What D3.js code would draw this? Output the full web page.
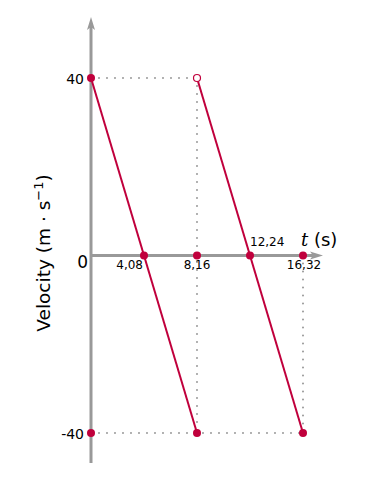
<!DOCTYPE html>
<meta charset="utf-8">
<style>
body { margin: 0; background: #fff; }
#grafico text { font-family: "DejaVu Sans", sans-serif; fill: #000; }
</style>
<svg id="grafico"></svg>
<script src="https://d3js.org/d3.v7.min.js"></script>
<script>

// tramos de la velocidad (t, v)
var tramo1 = [[0, 40], [8.16, -40]];
var tramo2 = [[8.16, 40], [16.32, -40]];
var puntosLlenos = [[0, 40], [4.08, 0], [8.16, 0], [12.24, 0], [16.32, 0], [0, -40], [8.16, -40], [16.32, -40]];
var puntosVacios = [[8.16, 40]];
var ticksY = [40, 0, -40];
var ticksX = ["4,08", "8,16", "12,24", "16,32"];
var valoresX = [4.08, 8.16, 12.24, 16.32];

var width = 388, height = 494;
var rojo = "#c0003c", gris = "#999";

var x = d3.scaleLinear().domain([0, 16.32]).range([91, 303]);
var y = d3.scaleLinear().domain([-40, 40]).range([433, 78]);

var svg = d3.select("#grafico").attr("width", width).attr("height", height);

// guias punteadas
var guias = [
  [[0, 40], [8.16, 40]],
  [[8.16, 40], [8.16, -40]],
  [[0, -40], [16.32, -40]],
  [[16.32, 0], [16.32, -40]]
];
svg.selectAll("line.guia")
    .data(guias)
  .enter().append("line")
    .attr("class", "guia")
    .attr("x1", function(d) { return x(d[0][0]); })
    .attr("y1", function(d) { return y(d[0][1]); })
    .attr("x2", function(d) { return x(d[1][0]); })
    .attr("y2", function(d) { return y(d[1][1]); })
    .attr("stroke", gris)
    .attr("stroke-width", 2)
    .attr("stroke-linecap", "round")
    .attr("stroke-dasharray", "0,8");

// ejes
svg.append("line")
    .attr("x1", x(0)).attr("x2", x(0))
    .attr("y1", 463).attr("y2", 24)
    .attr("stroke", gris).attr("stroke-width", 3);
svg.append("path")
    .attr("d", "M" + x(0) + ",17 L" + (x(0) - 4) + ",30 L" + x(0) + ",27 L" + (x(0) + 4) + ",30 Z")
    .attr("fill", gris);
svg.append("line")
    .attr("x1", x(0)).attr("x2", 316)
    .attr("y1", y(0)).attr("y2", y(0))
    .attr("stroke", gris).attr("stroke-width", 3);
svg.append("path")
    .attr("d", "M323," + y(0) + " L310," + (y(0) - 4) + " L313," + y(0) + " L310," + (y(0) + 4) + " Z")
    .attr("fill", gris);

// tramos
var linea = d3.line()
    .x(function(d) { return x(d[0]); })
    .y(function(d) { return y(d[1]); });

svg.selectAll("path.tramo")
    .data([tramo1, tramo2])
  .enter().append("path")
    .attr("class", "tramo")
    .attr("d", linea)
    .attr("fill", "none")
    .attr("stroke", rojo)
    .attr("stroke-width", 2);

svg.selectAll("circle.lleno")
    .data(puntosLlenos)
  .enter().append("circle")
    .attr("class", "lleno")
    .attr("cx", function(d) { return x(d[0]); })
    .attr("cy", function(d) { return y(d[1]); })
    .attr("r", 4)
    .attr("fill", rojo);

svg.selectAll("circle.vacio")
    .data(puntosVacios)
  .enter().append("circle")
    .attr("class", "vacio")
    .attr("cx", function(d) { return x(d[0]); })
    .attr("cy", function(d) { return y(d[1]); })
    .attr("r", 3.5)
    .attr("fill", "#fff")
    .attr("stroke", rojo)
    .attr("stroke-width", 1.2);

// etiquetas eje y
svg.selectAll("text.ty")
    .data(ticksY)
  .enter().append("text")
    .attr("class", "ty")
    .attr("x", function(d) { return d === 0 ? 88 : 84; })
    .attr("y", function(d) { return y(d) + (d === 0 ? 12 : 6); })
    .attr("text-anchor", "end")
    .style("font-size", function(d) { return d === 0 ? "17px" : "14px"; })
    .text(function(d) { return d; });

// etiquetas eje x
var posX = [
  { dx: -1, dy: 13, anchor: "end" },
  { dx: 0, dy: 13, anchor: "middle" },
  { dx: 0, dy: -10, anchor: "start" },
  { dx: 1, dy: 13, anchor: "middle" }
];
svg.selectAll("text.tx")
    .data(ticksX)
  .enter().append("text")
    .attr("class", "tx")
    .attr("x", function(d, i) { return x(valoresX[i]) + posX[i].dx; })
    .attr("y", function(d, i) { return y(0) + posX[i].dy; })
    .attr("text-anchor", function(d, i) { return posX[i].anchor; })
    .style("font-size", "12px")
    .text(function(d) { return d; });

// titulo eje x
var tx = svg.append("text")
    .attr("x", 301).attr("y", 246)
    .style("font-size", "18px");
tx.append("tspan").style("font-family", "'DejaVu Serif', serif").style("font-style", "italic").text("t");
tx.append("tspan").text(" (s)");

// titulo eje y
var ty = svg.append("text")
    .attr("transform", "translate(50,253) rotate(-90)")
    .attr("text-anchor", "middle")
    .style("font-size", "18.5px");
ty.append("tspan").text("Velocity (m \u00b7 s");
ty.append("tspan").attr("dy", -7).style("font-size", "13px").text("\u22121");
ty.append("tspan").attr("dy", 7).text(")");

</script>
